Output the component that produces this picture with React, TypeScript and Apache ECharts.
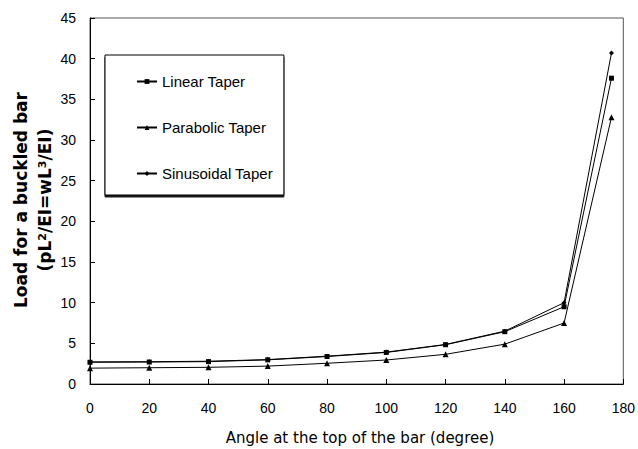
import React, { useEffect, useRef } from "react";
import * as echarts from "echarts";

const angles = [0, 20, 40, 60, 80, 100, 120, 140, 160, 176];
const linearTaper = [2.67, 2.7, 2.75, 2.97, 3.38, 3.88, 4.83, 6.43, 9.5, 37.6];
const parabolicTaper = [1.95, 2.0, 2.05, 2.2, 2.55, 2.95, 3.65, 4.9, 7.5, 32.8];
const sinusoidalTaper = [2.72, 2.74, 2.8, 3.0, 3.42, 3.92, 4.86, 6.5, 10.0, 40.7];
const seriesNames = ["Linear Taper", "Parabolic Taper", "Sinusoidal Taper"];

const FONT = "'Liberation Sans', Arial, sans-serif";
const WIDE = "'DejaVu Sans', sans-serif";

export default function App() {
  const ref = useRef<HTMLDivElement>(null);
  useEffect(() => {
    if (!ref.current) return;
    const chart = echarts.init(ref.current, null, { renderer: "svg" });
    const mk = (vals: number[]) => angles.map((a, i) => [a, vals[i]]);
    const lineStyle = { color: "#000", width: 1 };
    chart.setOption({
      animation: false,
      backgroundColor: "#fff",
      textStyle: { fontFamily: FONT },
      grid: {
        left: 90,
        right: 11,
        top: 18,
        bottom: 65,
        show: true,
        borderColor: "#555",
        borderWidth: 1,
        backgroundColor: "transparent",
      },
      legend: {
        orient: "vertical",
        left: 105,
        top: 55,
        data: seriesNames,
        backgroundColor: "#fff",
        borderColor: "#000",
        borderWidth: 1,
        borderRadius: 0,
        padding: [19, 11, 14, 31],
        itemGap: 31,
        itemWidth: 20,
        itemHeight: 6,
        shadowColor: "rgba(0,0,0,0.9)",
        shadowBlur: 0,
        shadowOffsetX: 0,
        shadowOffsetY: 2,
        textStyle: { fontSize: 15, color: "#000", fontFamily: FONT, lineHeight: 15 },
      },
      xAxis: {
        type: "value",
        min: 0,
        max: 180,
        interval: 20,
        axisLine: { lineStyle: { color: "#000" } },
        axisTick: { inside: true, length: 5, lineStyle: { color: "#000" } },
        axisLabel: { color: "#000", fontSize: 14, margin: 17, fontFamily: FONT },
        splitLine: { show: false },
      },
      yAxis: {
        type: "value",
        min: 0,
        max: 45,
        interval: 5,
        axisLine: { show: true, lineStyle: { color: "#000" } },
        axisTick: { show: true, inside: true, length: 5, lineStyle: { color: "#000" } },
        axisLabel: { color: "#000", fontSize: 14, margin: 14, fontFamily: FONT },
        splitLine: { show: false },
      },
      graphic: [
        {
          type: "text",
          x: 21,
          y: 200,
          rotation: Math.PI / 2,
          style: {
            text: "Load for a buckled bar",
            font: `bold 17px ${WIDE}`,
            fill: "#000",
            align: "center",
            verticalAlign: "middle",
          },
        },
        {
          type: "text",
          x: 45,
          y: 200,
          rotation: Math.PI / 2,
          style: {
            text: "(pL{sup|2}/EI=wL{sup|3}/EI)",
            font: `bold 17px ${WIDE}`,
            fill: "#000",
            align: "center",
            verticalAlign: "middle",
            rich: {
              sup: { fontSize: 11, fontWeight: "bold", fontFamily: WIDE, verticalAlign: "top", fill: "#000" },
            },
          },
        },
        {
          type: "text",
          x: 360,
          y: 438,
          style: {
            text: "Angle at the top of the bar (degree)",
            font: `15px ${WIDE}`,
            fill: "#000",
            align: "center",
            verticalAlign: "middle",
          },
        },
      ],
      series: [
        {
          name: seriesNames[0],
          type: "line",
          data: mk(linearTaper),
          symbol: "rect",
          symbolSize: 5,
          itemStyle: { color: "#000" },
          lineStyle,
        },
        {
          name: seriesNames[1],
          type: "line",
          data: mk(parabolicTaper),
          symbol: "triangle",
          symbolSize: 6,
          itemStyle: { color: "#000" },
          lineStyle,
        },
        {
          name: seriesNames[2],
          type: "line",
          data: mk(sinusoidalTaper),
          symbol: "diamond",
          symbolSize: 5,
          itemStyle: { color: "#000" },
          lineStyle,
        },
      ],
    });
    return () => chart.dispose();
  }, []);
  return (
    <div
      ref={ref}
      style={{ position: "fixed", left: 0, top: 0, width: 638, height: 449 }}
    />
  );
}
